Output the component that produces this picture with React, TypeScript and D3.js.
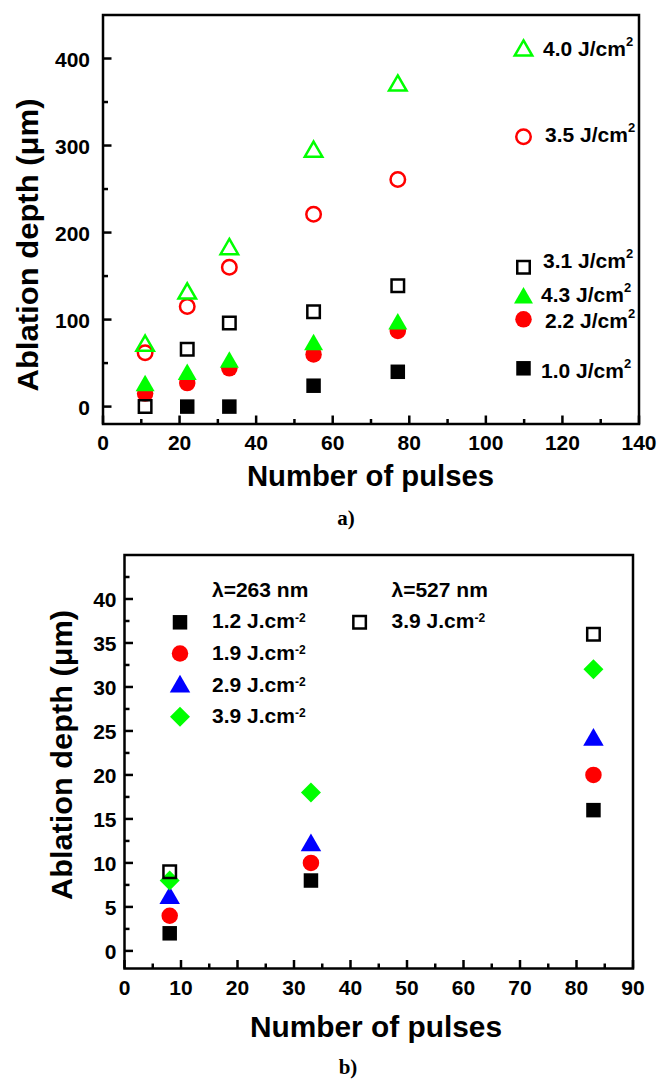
import React from "react";
import * as d3 from "d3";

// ---------- Data: chart a) ----------
const aXTicks = [0, 20, 40, 60, 80, 100, 120, 140];
const aYTicks = [0, 100, 200, 300, 400];
const aPulses = [11, 22, 33, 55, 77];
const aF10Pulses = [22, 33, 55, 77];
const aF10 = [0, 0, 24, 40];
const aF22 = [15, 27, 44, 60, 87];
const aF43 = [24, 37, 51, 71, 95];
const aF31 = [0, 66, 96, 109, 139];
const aF35 = [62, 115, 160, 221, 261];
const aF40 = [70, 130, 181, 293, 369];

// ---------- Data: chart b) ----------
const bXTicks = [0, 10, 20, 30, 40, 50, 60, 70, 80, 90];
const bYTicks = [0, 5, 10, 15, 20, 25, 30, 35, 40];
const bPulses = [8, 33, 83];
const bF12 = [2, 8, 16];
const bF19 = [4, 10, 20];
const bF29 = [6, 12, 24];
const bF39 = [8, 18, 32];
const b527Pulses = [8, 83];
const b527F39 = [9, 36];

const FONT = "'Liberation Sans', Arial, Helvetica, sans-serif";
const SERIF = "'Liberation Serif', 'Times New Roman', serif";
const GREEN = "#00ff00";
const RED = "#ff0000";
const BLUE = "#0000ff";

type Shape = "square" | "circle" | "triangle" | "diamond";

function symbolPath(shape: Shape, size: number): string {
  // size = nominal width in px
  if (shape === "square") return d3.symbol(d3.symbolSquare, size * size)() as string;
  if (shape === "circle") return d3.symbol(d3.symbolCircle, Math.PI * (size / 2) ** 2)() as string;
  if (shape === "triangle") return d3.symbol(d3.symbolTriangle, (Math.sqrt(3) / 4) * size * size)() as string;
  // diamond: square rotated 45deg, size = diagonal
  return d3.symbol(d3.symbolSquare, (size * size) / 2)() as string;
}

function Marker({ x, y, shape, size, color, open }: { x: number; y: number; shape: Shape; size: number; color: string; open?: boolean }) {
  const d = symbolPath(shape, size);
  const rot = shape === "diamond" ? " rotate(45)" : "";
  return (
    <path
      d={d}
      transform={`translate(${x},${y})${rot}`}
      fill={open ? "none" : color}
      stroke={open ? color : "none"}
      strokeWidth={open ? 2.5 : 0}
    />
  );
}

function Frame({ x0, x1, y0, y1 }: { x0: number; x1: number; y0: number; y1: number }) {
  return <rect x={x0} y={y0} width={x1 - x0} height={y1 - y0} fill="none" stroke="#000" strokeWidth={2.5} />;
}

function ChartA() {
  const L = 103, R = 639, T = 15, B = 424;
  const x = d3.scaleLinear().domain([0, 140]).range([L, R]);
  const y = d3.scaleLinear().domain([-20, 450]).range([B, T]);
  const xMinor = d3.range(10, 140, 20);
  const yMinor = d3.range(50, 450, 100);
  const series: { xs: number[]; ys: number[]; shape: Shape; size: number; color: string; open?: boolean }[] = [
    { xs: aF10Pulses, ys: aF10, shape: "square", size: 14.5, color: "#000" },
    { xs: aPulses, ys: aF22, shape: "circle", size: 16.5, color: RED },
    { xs: aPulses, ys: aF43, shape: "triangle", size: 19, color: GREEN },
    { xs: aPulses, ys: aF31, shape: "square", size: 12.5, color: "#000", open: true },
    { xs: aPulses, ys: aF35, shape: "circle", size: 14.5, color: RED, open: true },
    { xs: aPulses, ys: aF40, shape: "triangle", size: 17.5, color: GREEN, open: true },
  ];
  const legend: { label: string; shape: Shape; size: number; color: string; open?: boolean; my: number; tx: number; ty: number }[] = [
    { label: "4.0 J/cm", shape: "triangle", size: 17.5, color: GREEN, open: true, my: 50.5, tx: 543, ty: 55.7 },
    { label: "3.5 J/cm", shape: "circle", size: 14.5, color: RED, open: true, my: 136.7, tx: 545, ty: 141.7 },
    { label: "3.1 J/cm", shape: "square", size: 12.5, color: "#000", open: true, my: 267.3, tx: 543, ty: 268.3 },
    { label: "4.3 J/cm", shape: "triangle", size: 19, color: GREEN, my: 298, tx: 541, ty: 301.7 },
    { label: "2.2 J/cm", shape: "circle", size: 16.5, color: RED, my: 319.3, tx: 545, ty: 328.3 },
    { label: "1.0 J/cm", shape: "square", size: 14.5, color: "#000", my: 368.3, tx: 541, ty: 378.3 },
  ];
  return (
    <g>
      {aXTicks.map((t) => (
        <g key={"xt" + t}>
          <line x1={x(t)} x2={x(t)} y1={B} y2={B - 8.5} stroke="#000" strokeWidth={2.5} />
          <text x={x(t)} y={B + 26} textAnchor="middle" fontFamily={FONT} fontWeight="bold" fontSize={21}>{t}</text>
        </g>
      ))}
      {xMinor.map((t) => (
        <line key={"xm" + t} x1={x(t)} x2={x(t)} y1={B} y2={B - 5} stroke="#000" strokeWidth={2.5} />
      ))}
      {aYTicks.map((t) => (
        <g key={"yt" + t}>
          <line x1={L} x2={L + 8.5} y1={y(t)} y2={y(t)} stroke="#000" strokeWidth={2.5} />
          <text x={L - 13} y={y(t) + 8} textAnchor="end" fontFamily={FONT} fontWeight="bold" fontSize={21}>{t}</text>
        </g>
      ))}
      {yMinor.map((t) => (
        <line key={"ym" + t} x1={L} x2={L + 5} y1={y(t)} y2={y(t)} stroke="#000" strokeWidth={2.5} />
      ))}
      {series.map((s, i) =>
        s.xs.map((xv, j) => (
          <Marker key={`s${i}-${j}`} x={x(xv)} y={y(s.ys[j])} shape={s.shape} size={s.size} color={s.color} open={s.open} />
        ))
      )}
      {legend.map((l, i) => (
        <g key={"lg" + i}>
          <Marker x={523.5} y={l.my} shape={l.shape} size={l.size} color={l.color} open={l.open} />
          <text x={l.tx} y={l.ty} fontFamily={FONT} fontWeight="bold" fontSize={21}>
            {l.label}
            <tspan fontSize={13} dy={-10}>2</tspan>
          </text>
        </g>
      ))}
      <Frame x0={L} x1={R} y0={T} y1={B} />
      <text x={370.5} y={486} textAnchor="middle" fontFamily={FONT} fontWeight="bold" fontSize={29} textLength={247} lengthAdjust="spacingAndGlyphs">Number of pulses</text>
      <text transform={`translate(37.5,245) rotate(-90)`} textAnchor="middle" fontFamily={FONT} fontWeight="bold" fontSize={29} textLength={293} lengthAdjust="spacingAndGlyphs">Ablation depth (μm)</text>
      <text x={346} y={525} textAnchor="middle" fontFamily={SERIF} fontWeight="bold" fontSize={21}>a)</text>
    </g>
  );
}

function ChartB() {
  const L = 124.5, R = 633, T = 555, B = 968.5;
  const x = d3.scaleLinear().domain([0, 90]).range([L, R]);
  const y = d3.scaleLinear().domain([-2, 45]).range([B, T]);
  const xMinor = d3.range(5, 90, 10);
  const yMinor = d3.range(2.5, 45, 5);
  const series: { xs: number[]; ys: number[]; shape: Shape; size: number; color: string; open?: boolean }[] = [
    { xs: bPulses, ys: bF12, shape: "square", size: 14.5, color: "#000" },
    { xs: bPulses, ys: bF19, shape: "circle", size: 16.5, color: RED },
    { xs: bPulses, ys: bF29, shape: "triangle", size: 20.5, color: BLUE },
    { xs: bPulses, ys: bF39, shape: "diamond", size: 20, color: GREEN },
    { xs: b527Pulses, ys: b527F39, shape: "square", size: 12.5, color: "#000", open: true },
  ];
  const legend: { label: string; shape: Shape; size: number; color: string; open?: boolean; mx: number; my: number; tx: number; ty: number }[] = [
    { label: "1.2 J.cm", shape: "square", size: 14.5, color: "#000", mx: 180, my: 622.3, tx: 212, ty: 628.3 },
    { label: "1.9 J.cm", shape: "circle", size: 16.5, color: RED, mx: 180, my: 653.5, tx: 212, ty: 660 },
    { label: "2.9 J.cm", shape: "triangle", size: 20.5, color: BLUE, mx: 180, my: 686.5, tx: 212, ty: 691.7 },
    { label: "3.9 J.cm", shape: "diamond", size: 20, color: GREEN, mx: 180, my: 716.7, tx: 212, ty: 723.3 },
    { label: "3.9 J.cm", shape: "square", size: 12.5, color: "#000", open: true, mx: 359.6, my: 622.3, tx: 391.5, ty: 628.3 },
  ];
  return (
    <g>
      {bXTicks.map((t) => (
        <g key={"xt" + t}>
          <line x1={x(t)} x2={x(t)} y1={B} y2={B - 8.5} stroke="#000" strokeWidth={2.5} />
          <text x={x(t)} y={B + 26} textAnchor="middle" fontFamily={FONT} fontWeight="bold" fontSize={21}>{t}</text>
        </g>
      ))}
      {xMinor.map((t) => (
        <line key={"xm" + t} x1={x(t)} x2={x(t)} y1={B} y2={B - 5} stroke="#000" strokeWidth={2.5} />
      ))}
      {bYTicks.map((t) => (
        <g key={"yt" + t}>
          <line x1={L} x2={L + 8.5} y1={y(t)} y2={y(t)} stroke="#000" strokeWidth={2.5} />
          <text x={L - 8} y={y(t) + 8} textAnchor="end" fontFamily={FONT} fontWeight="bold" fontSize={21}>{t}</text>
        </g>
      ))}
      {yMinor.map((t) => (
        <line key={"ym" + t} x1={L} x2={L + 5} y1={y(t)} y2={y(t)} stroke="#000" strokeWidth={2.5} />
      ))}
      {series.map((s, i) =>
        s.xs.map((xv, j) => (
          <Marker key={`s${i}-${j}`} x={x(xv)} y={y(s.ys[j])} shape={s.shape} size={s.size} color={s.color} open={s.open} />
        ))
      )}
      <text x={212} y={596.7} fontFamily={FONT} fontWeight="bold" fontSize={21}>λ=263 nm</text>
      <text x={391.5} y={596.7} fontFamily={FONT} fontWeight="bold" fontSize={21}>λ=527 nm</text>
      {legend.map((l, i) => (
        <g key={"lg" + i}>
          <Marker x={l.mx} y={l.my} shape={l.shape} size={l.size} color={l.color} open={l.open} />
          <text x={l.tx} y={l.ty} fontFamily={FONT} fontWeight="bold" fontSize={21}>
            {l.label}
            <tspan fontSize={12} dy={-6}>-2</tspan>
          </text>
        </g>
      ))}
      <Frame x0={L} x1={R} y0={T} y1={B} />
      <text x={376} y={1036.7} textAnchor="middle" fontFamily={FONT} fontWeight="bold" fontSize={29} textLength={252} lengthAdjust="spacingAndGlyphs">Number of pulses</text>
      <text transform={`translate(72,755) rotate(-90)`} textAnchor="middle" fontFamily={FONT} fontWeight="bold" fontSize={29} textLength={290} lengthAdjust="spacingAndGlyphs">Ablation depth (μm)</text>
      <text x={348} y={1074} textAnchor="middle" fontFamily={SERIF} fontWeight="bold" fontSize={21}>b)</text>
    </g>
  );
}

export default function App() {
  return (
    <svg
      width={661}
      height={1080}
      viewBox="0 0 661 1080"
      style={{ position: "absolute", left: 0, top: 0, background: "#fff" }}
    >
      <rect x={0} y={0} width={661} height={1080} fill="#fff" />
      <ChartA />
      <ChartB />
    </svg>
  );
}
